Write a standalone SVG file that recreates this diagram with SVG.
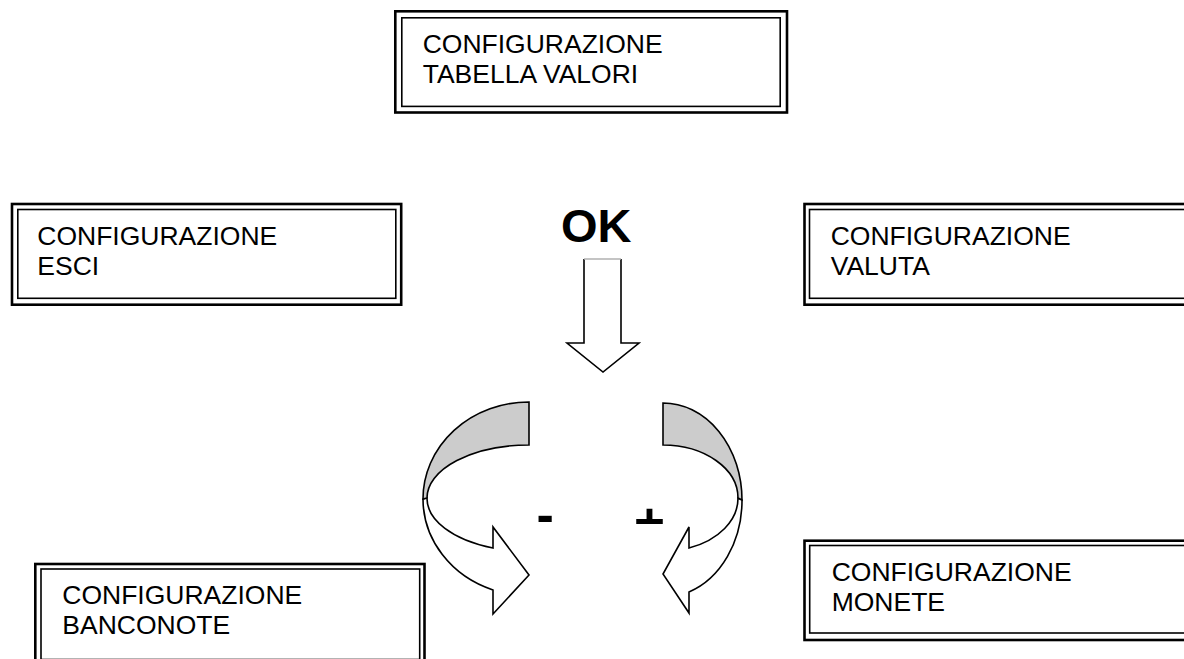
<svg xmlns="http://www.w3.org/2000/svg" width="1184" height="659" viewBox="0 0 1184 659">
<style>
.outer{fill:#fff;stroke:#000;stroke-width:2.6}
.inner{fill:none;stroke:#000;stroke-width:1.6}
.lbl{font-family:"Liberation Sans",Arial,sans-serif;font-size:26.5px;fill:#000}
.big{font-family:"Liberation Sans",Arial,sans-serif;font-weight:bold;fill:#000}
.arr{fill:#fff;stroke:#000;stroke-width:1.6;stroke-linejoin:miter}
.band{fill:#cccccc;stroke:#000;stroke-width:1.6}
</style>
<defs>
<clipPath id="plusclip"><rect x="620" y="490" width="60" height="34"/></clipPath>
</defs>
<rect width="1184" height="659" fill="#fff"/>
<g id="node-tabella">
<rect class="outer" x="395.3" y="11.3" width="391.7" height="101.2"/>
<rect class="inner" x="401.8" y="17.8" width="378.4" height="88.6"/>
<text class="lbl" x="422.7" y="53.3">CONFIGURAZIONE</text>
<text class="lbl" x="422.7" y="82.9">TABELLA VALORI</text>
</g>
<g id="node-esci">
<rect class="outer" x="12" y="204" width="389.2" height="100.7"/>
<rect class="inner" x="17.8" y="209.5" width="378" height="88.8"/>
<text class="lbl" x="37.3" y="245">CONFIGURAZIONE</text>
<text class="lbl" x="37.3" y="275">ESCI</text>
</g>
<g id="node-valuta">
<rect class="outer" x="804.5" y="204" width="420" height="100.7"/>
<rect class="inner" x="809.5" y="209.5" width="410" height="88.8"/>
<text class="lbl" x="830.7" y="245">CONFIGURAZIONE</text>
<text class="lbl" x="830.7" y="275">VALUTA</text>
</g>
<g id="node-monete">
<rect class="outer" x="804.5" y="540.7" width="420" height="99.3"/>
<rect class="inner" x="809.7" y="545.5" width="410" height="87.5"/>
<text class="lbl" x="831.7" y="581">CONFIGURAZIONE</text>
<text class="lbl" x="831.7" y="610.7">MONETE</text>
</g>
<g id="node-banconote">
<rect class="outer" x="35.3" y="564" width="389.2" height="102"/>
<rect class="inner" x="41" y="569" width="378.7" height="90.5"/>
<text class="lbl" x="62.3" y="604">CONFIGURAZIONE</text>
<text class="lbl" x="62.3" y="634.3">BANCONOTE</text>
</g>
<g id="label-ok">
<text class="big" x="561" y="242" font-size="47">OK</text>
</g>
<g id="connectors">
<path class="arr" d="M584,259 L584,343 L567,343 L603,372 L639,343 L621,343 L621,259"/>
<line x1="584" y1="259" x2="621" y2="259" stroke="#b0b0b0" stroke-width="1.4"/>
<path class="arr" d="M423,499 A106,97 0 0 0 493,590 L493,614 L529,575 L493,527 L493,548 A102,53 0 0 1 427,498 Z"/>
<path class="band" d="M529,402 A106,97 0 0 0 423,499 L427,498 A102,53 0 0 1 529,445 Z"/>
<path class="arr" d="M742,500 A79,97 0 0 1 689,592 L689,613 L663,574 L689,527 L689,548 A75,53 0 0 0 738,498 Z"/>
<path class="band" d="M663,403 A79,97 0 0 1 742,500 L738,498 A75,53 0 0 0 663,445 Z"/>
</g>
<g id="signs">
<text class="big" x="536.5" y="532" font-size="52">-</text>
<text class="big" x="634" y="539.5" font-size="53" clip-path="url(#plusclip)">+</text>
</g>
</svg>
